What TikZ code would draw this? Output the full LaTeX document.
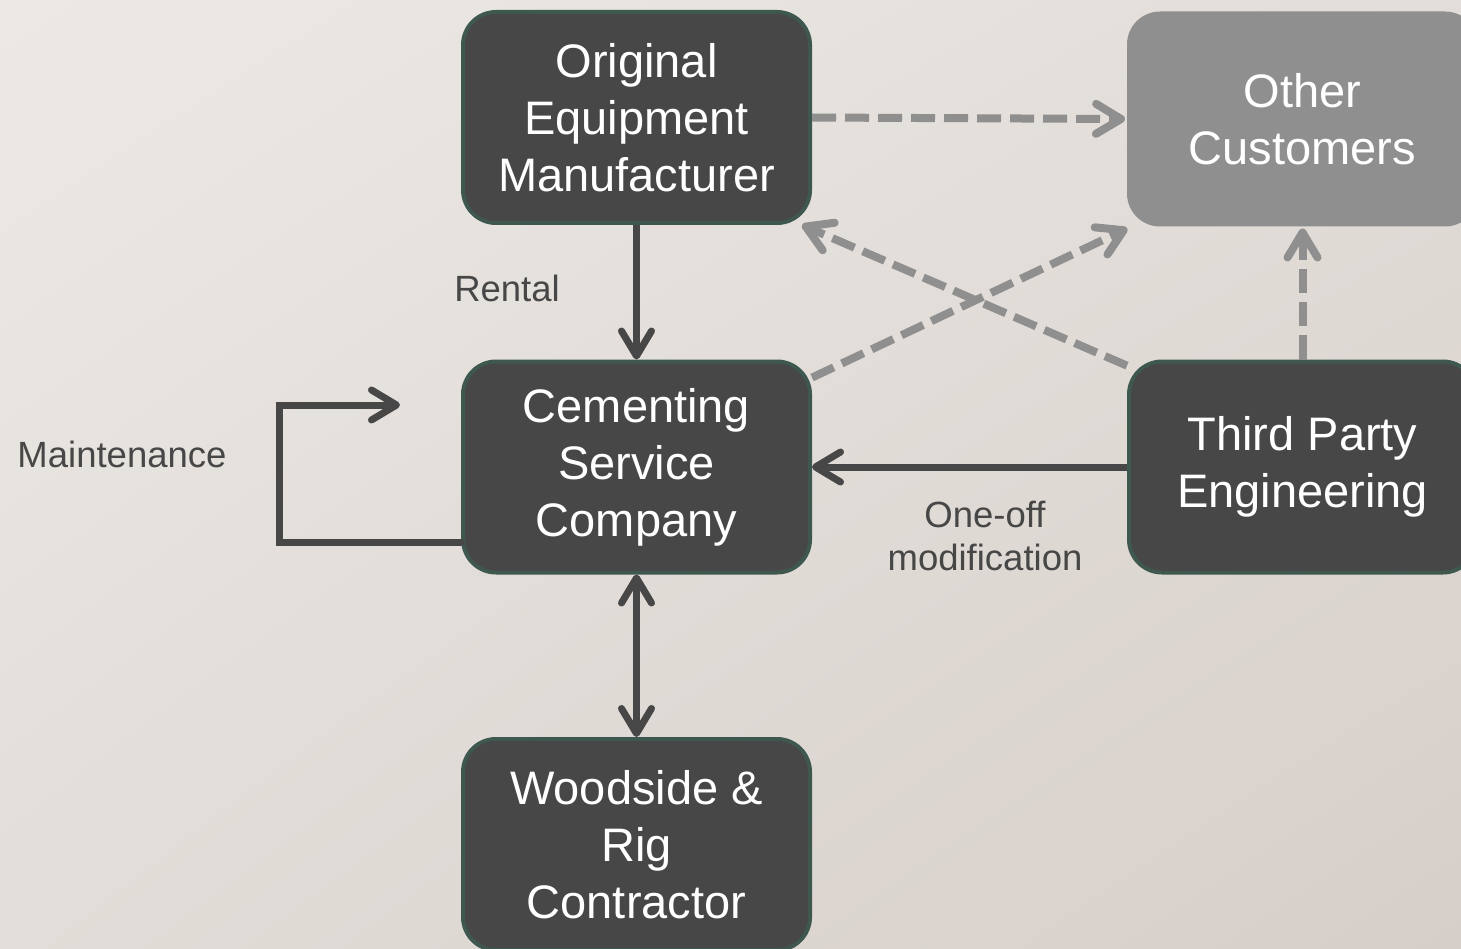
\documentclass[tikz,border=0pt]{standalone}
\usepackage{fontspec}
\setmainfont{Liberation Sans}
\usetikzlibrary{arrows.meta,calc,shadings}
\definecolor{bgA}{HTML}{ECE9E5}
\definecolor{bgB}{HTML}{E2DDD8}
\definecolor{bgC}{HTML}{D6CEC9}
\definecolor{boxfill}{HTML}{474747}
\definecolor{boxborder}{HTML}{3E574F}
\definecolor{greybox}{HTML}{8F8F8F}
\definecolor{darkline}{HTML}{474747}
\definecolor{greyline}{HTML}{8F8F8F}
\tikzset{
  box/.style={draw=boxborder, line width=4pt, fill=boxfill, rounded corners=33pt,
    minimum width=347pt, minimum height=211pt, text=white, align=center,
    font=\fontsize{47}{57}\selectfont, inner sep=0pt},
  gbox/.style={box, draw=none, fill=greybox, minimum width=351pt, minimum height=215pt},
  lbl/.style={text=darkline, align=center, font=\fontsize{36.5}{43}\selectfont, inner sep=0pt},
  solidarrow/.style={draw=darkline, line width=7pt, -{Straight Barb[length=25pt, width=30pt, round]}},
  dasharrow/.style={draw=greyline, line width=8pt, dash pattern=on 24pt off 9pt,
    -{Straight Barb[length=25pt, width=30pt, round]}}
}
\begin{document}
\begin{tikzpicture}[x=1pt, y=-1pt]
\useasboundingbox (0,0) rectangle (1461,949);
\clip (0,0) rectangle (1461,949);
\shade[upper left=bgA, upper right=bgB, lower left=bgB, lower right=bgC] (0,0) rectangle (1461,949);

\node[box] (oem) at (636.5,117.5) {Original\\Equipment\\Manufacturer};
\node[gbox] (other) at (1302.5,119) {Other\\Customers};
\node[box] (csc) at (636.5,467) {Cementing\\Service\\Company};
\node[box] (tpe) at (1302.5,467) {Third Party\\Engineering};
\node[box] (wrc) at (636.5,844.5) {Woodside \&\\Rig\\Contractor};

\node[lbl] (rental) at (507,288) {Rental};
\node[lbl] (maint) at (122,454) {Maintenance};
\node[lbl] (oneoff) at (985,536) {One-off\\modification};

\coordinate (mA) at (279,542);
\coordinate (mB) at (279,405);
\coordinate (mEnd) at (400,405);

% dashed grey connectors
\draw[dasharrow] (oem.east) -- (other.west);
\draw[dasharrow] (csc.27) -- (other.212);
\draw[dasharrow] (tpe.150) -- (oem.-33);
\draw[dasharrow] (tpe.north) -- (other.south);

% solid dark connectors
\draw[solidarrow] (oem.south) -- (csc.north);
\draw[solidarrow] (tpe.west) -- (csc.east);
\draw[solidarrow, {Straight Barb[length=25pt, width=30pt, round]}-{Straight Barb[length=25pt, width=30pt, round]}] (csc.south) -- (wrc.north);
\draw[solidarrow, line cap=round, line join=miter] (csc.west |- mA) -- (mA) -- (mB) -- (mEnd);
\end{tikzpicture}
\end{document}
